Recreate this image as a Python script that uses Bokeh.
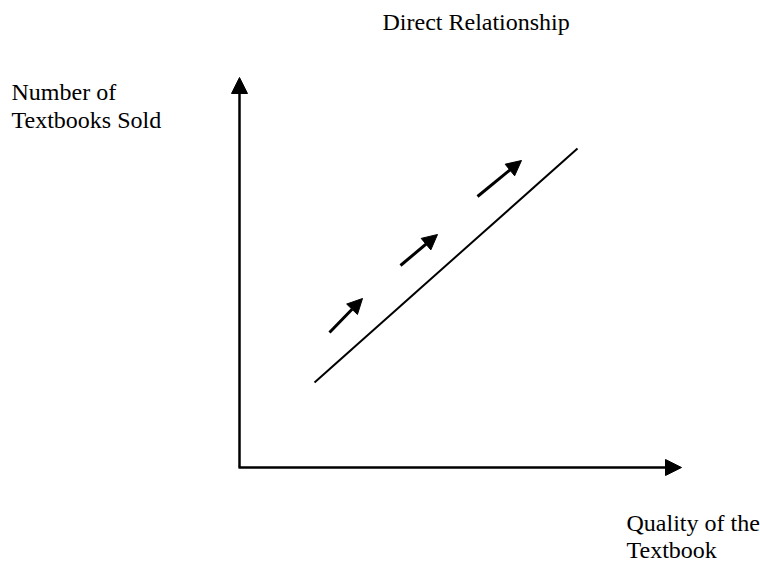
from bokeh.plotting import figure
from bokeh.models import Range1d, Arrow, NormalHead, ColumnDataSource
from bokeh.core.properties import value
from bokeh.embed import file_html
from bokeh.resources import INLINE

# Schematic coordinates (diagram units, y grows downward)
title_text = ["Direct Relationship"]
title_x = [382]
title_y = [21]

y_label_lines = ["Number of", "Textbooks Sold"]
y_label_x = [11, 11]
y_label_y = [91, 119]

x_label_lines = ["Quality of the", "Textbook"]
x_label_x = [626, 626]
x_label_y = [522, 549]

# axes (start -> end with arrow head at end)
axis_x0 = [239, 238]
axis_y0 = [467, 467]
axis_x1 = [239, 681]
axis_y1 = [77, 467]

# relationship line
rel_x = [314, 577]
rel_y = [382, 148]

# small direction arrows
arr_x0 = [329, 400, 477]
arr_y0 = [332, 265, 196]
arr_x1 = [362, 437, 521]
arr_y1 = [298, 234, 160]

W, H = 760, 563
p = figure(width=W, height=H, output_backend="svg", toolbar_location=None,
           x_range=Range1d(0, W), y_range=Range1d(H, 0),
           min_border=0, outline_line_color=None)
p.xaxis.visible = False
p.yaxis.visible = False
p.grid.visible = False
p.background_fill_color = "white"
p.border_fill_color = "white"

font = value("Liberation Serif")
for xs, ys, ts in [(title_x, title_y, title_text),
                   (y_label_x, y_label_y, y_label_lines),
                   (x_label_x, x_label_y, x_label_lines)]:
    p.text(x=xs, y=ys, text=ts, text_font=font, text_font_size="24px",
           text_baseline="alphabetic", text_align="left", text_color="black")

p.line(rel_x, rel_y, line_color="black", line_width=2)

axis_src = ColumnDataSource(dict(x0=axis_x0, y0=axis_y0, x1=axis_x1, y1=axis_y1))
p.add_layout(Arrow(source=axis_src, x_start="x0", y_start="y0", x_end="x1", y_end="y1",
                   line_width=2.5, line_color="black",
                   end=NormalHead(size=16, fill_color="black", line_color="black", line_width=1)))

arr_src = ColumnDataSource(dict(x0=arr_x0, y0=arr_y0, x1=arr_x1, y1=arr_y1))
p.add_layout(Arrow(source=arr_src, x_start="x0", y_start="y0", x_end="x1", y_end="y1",
                   line_width=3, line_color="black",
                   end=NormalHead(size=15, fill_color="black", line_color="black", line_width=1)))

open("out.html", "w").write(file_html(p, INLINE))
